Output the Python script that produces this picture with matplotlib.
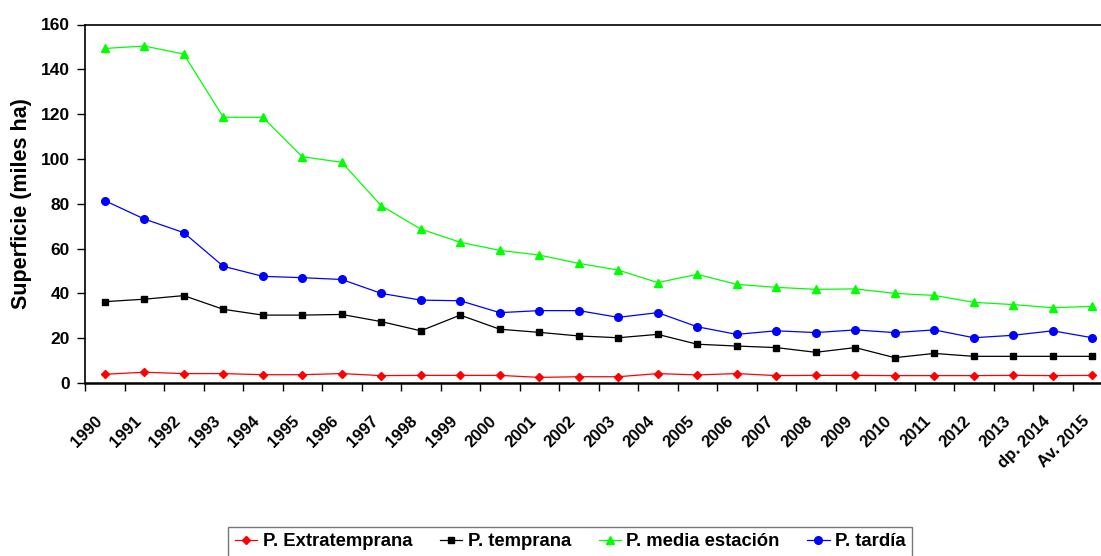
import matplotlib
matplotlib.use("Agg")
import matplotlib.pyplot as plt
from matplotlib.ticker import FixedLocator, MultipleLocator

# Categories (campañas)
years = [str(y) for y in range(1990, 2014)] + ["dp. 2014", "Av. 2015"]

# Superficie (miles ha)
extratemprana = [3.9, 4.8, 4.2, 4.2, 3.7, 3.7, 4.2, 3.3, 3.4, 3.4, 3.4, 2.5, 2.8,
                 2.8, 4.2, 3.6, 4.2, 3.3, 3.4, 3.4, 3.3, 3.3, 3.3, 3.4, 3.3, 3.4]
temprana = [36.3, 37.4, 39.0, 32.9, 30.3, 30.3, 30.6, 27.4, 23.3, 30.3, 24.0, 22.6, 21.0,
            20.2, 21.7, 17.3, 16.5, 15.8, 13.7, 15.8, 11.3, 13.2, 11.9, 11.9, 11.9, 11.9]
media_estacion = [149.3, 150.4, 146.8, 118.6, 118.6, 101.0, 98.5, 79.1, 68.7, 62.8, 59.2,
                  57.1, 53.4, 50.4, 44.8, 48.5, 44.0, 42.7, 41.8, 42.0, 40.0, 39.1, 36.0,
                  35.0, 33.6, 34.2]
tardia = [81.4, 73.2, 67.1, 52.1, 47.6, 47.0, 46.2, 40.0, 37.0, 36.7, 31.4, 32.3, 32.3,
          29.3, 31.4, 25.1, 21.7, 23.3, 22.5, 23.7, 22.5, 23.7, 20.2, 21.3, 23.3, 20.2]

plt.rcParams["font.family"] = ["Liberation Sans", "DejaVu Sans"]
plt.rcParams["font.weight"] = "bold"

fig = plt.figure(figsize=(11.01, 5.56), dpi=100)
# plot area runs slightly past the right edge, as in the reference
ax = fig.add_axes([85 / 1101, 1 - 383 / 556, 1027 / 1101, 358.5 / 556])

x = list(range(len(years)))
ax.plot(x, extratemprana, color="#ff0000", marker="D", markersize=4.5, lw=0.9,
        label="P. Extratemprana")
ax.plot(x, temprana, color="black", marker="s", markersize=5, lw=0.9,
        label="P. temprana")
ax.plot(x, media_estacion, color="#00ff00", marker="^", markersize=6, lw=0.9,
        label="P. media estación")
ax.plot(x, tardia, color="#0000ff", marker="o", markersize=5.5, lw=0.9,
        label="P. tardía")

ax.set_xlim(-0.5, len(years) - 0.5)
ax.set_ylim(0, 160)
ax.yaxis.set_major_locator(MultipleLocator(20))

ax.set_xticks(x)
ax.set_xticklabels(years, rotation=45, ha="right", va="top", fontsize=12)
ax.xaxis.set_minor_locator(FixedLocator([i - 0.5 for i in range(len(years) + 1)]))
ax.tick_params(axis="x", which="major", length=0, pad=22)
ax.tick_params(axis="x", which="minor", length=6, width=1, direction="out")
ax.tick_params(axis="y", length=6, width=1, direction="out", pad=5, labelsize=12.5)

for side in ["left", "top", "right"]:
    ax.spines[side].set_linewidth(1.2)
ax.spines["bottom"].set_linewidth(1.8)

ax.set_ylabel("Superficie (miles ha)", fontsize=15.5, fontweight="bold", labelpad=6)

leg = fig.legend(loc="upper center", bbox_to_anchor=(0.518, 1 - 527 / 556), ncol=4,
                 fontsize=13.3, frameon=True, fancybox=False, edgecolor="#555555",
                 handlelength=1.2, columnspacing=1.5, borderpad=0.35,
                 handletextpad=0.3, borderaxespad=0)
leg.get_frame().set_linewidth(1.0)

fig.savefig("out.png", dpi=100)
